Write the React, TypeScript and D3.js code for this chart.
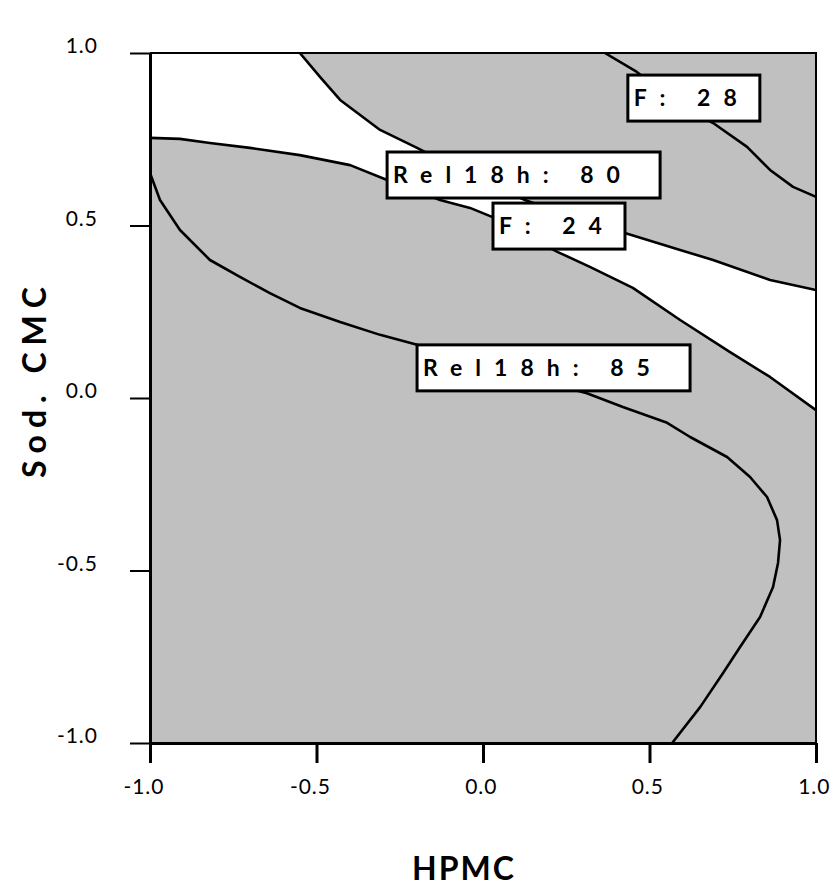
import * as d3 from "d3";
import { useRef, useEffect } from "react";

// axis ticks
const tickValues = [-1, -0.5, 0, 0.5, 1];
const xTickLabels = ["-1.0", "-0.5", "0.0", "0.5", "1.0"];
const yTickLabels = ["-1.0", "-0.5", "0.0", "0.5", "1.0"];

// contour lines, [HPMC, Sod. CMC]
// upper edge of the white band
const upperEdge = [
  [-0.55, 1.0], [-0.489, 0.93], [-0.429, 0.864], [-0.309, 0.777],
  [-0.198, 0.725], [-0.039, 0.646], [0.126, 0.574], [0.291, 0.516],
  [0.426, 0.478], [0.592, 0.429], [0.691, 0.4], [0.862, 0.342], [1.0, 0.313],
];
// lower edge of the white band
const lowerEdge = [
  [-1.0, 0.754], [-0.91, 0.751], [-0.82, 0.739], [-0.7, 0.725],
  [-0.55, 0.704], [-0.399, 0.675], [-0.288, 0.632], [-0.204, 0.603],
  [-0.129, 0.574], [-0.039, 0.551], [0.027, 0.525], [0.126, 0.472],
  [0.225, 0.423], [0.321, 0.38], [0.45, 0.319], [0.592, 0.226],
  [0.742, 0.133], [0.862, 0.061], [1.0, -0.035],
];
// F: 28
const f28Line = [
  [0.366, 1.0], [0.462, 0.945], [0.532, 0.893], [0.622, 0.835],
  [0.691, 0.797], [0.793, 0.728], [0.862, 0.661], [0.931, 0.612], [1.0, 0.583],
];
// Rel18h: 85
const rel85Line = [
  [-1.0, 0.652], [-0.97, 0.574], [-0.91, 0.487], [-0.82, 0.4],
  [-0.73, 0.351], [-0.64, 0.304], [-0.55, 0.261], [-0.429, 0.22],
  [-0.309, 0.183], [-0.198, 0.154], [0.051, 0.081], [0.312, 0.014],
  [0.42, -0.026], [0.553, -0.072], [0.622, -0.113], [0.733, -0.171],
  [0.802, -0.229], [0.853, -0.287], [0.883, -0.354], [0.892, -0.412],
  [0.886, -0.478], [0.871, -0.548], [0.832, -0.635], [0.772, -0.722],
  [0.721, -0.797], [0.652, -0.896], [0.568, -1.0],
];

const contourLabels = ["F: 28", "Rel18h: 80", "F: 24", "Rel18h: 85"];
// top-left corner of each label box
const labelAnchors = [
  [0.435, 0.936],
  [-0.288, 0.713],
  [0.03, 0.565],
  [-0.198, 0.154],
];

const App = () => {
  const container = useRef(null);

  useEffect(() => {
    let node = container.current;

    let margins = { t: 53, l: 150, r: 22, b: 147 };
    let width = 838;
    let height = 890;
    let chartW = width - margins.l - margins.r;
    let chartH = height - margins.t - margins.b;
    let font = "Lato, 'DejaVu Sans', sans-serif";

    let svg = d3
      .select(node)
      .selectAll("svg")
      .data([0])
      .join("svg")
      .attr("width", width)
      .attr("height", height)
      .style("position", "absolute")
      .style("left", 0)
      .style("top", 0)
      .style("background", "#ffffff");

    svg.selectAll("*").remove();

    let xScale = d3.scaleLinear().domain([-1, 1]).range([0, chartW]);
    let yScale = d3.scaleLinear().domain([-1, 1]).range([chartH, 0]);

    let defs = svg.append("defs");
    defs
      .append("clipPath")
      .attr("id", "plot-clip")
      .append("rect")
      .attr("width", chartW)
      .attr("height", chartH);

    let plotg = svg
      .append("g")
      .attr("transform", `translate(${margins.l},${margins.t})`);

    let fillg = plotg.append("g").attr("clip-path", "url(#plot-clip)");

    fillg
      .append("rect")
      .attr("width", chartW)
      .attr("height", chartH)
      .attr("fill", "#c0c0c0");

    let lineGen = d3
      .line()
      .x((d) => xScale(d[0]))
      .y((d) => yScale(d[1]));

    // white band between the two edges (plus top-left corner)
    let band = [[-1, 1], ...upperEdge, ...lowerEdge.slice().reverse()];
    fillg
      .append("path")
      .attr("d", lineGen(band) + "Z")
      .attr("fill", "#ffffff");

    fillg
      .selectAll(".contour-line")
      .data([upperEdge, lowerEdge, f28Line, rel85Line])
      .join("path")
      .attr("class", "contour-line")
      .attr("d", lineGen)
      .attr("fill", "none")
      .attr("stroke", "#000")
      .attr("stroke-width", 2.6)
      .attr("stroke-linejoin", "round");

    // axes
    let xAxis = d3
      .axisBottom(xScale)
      .tickValues(tickValues)
      .tickSize(20)
      .tickSizeOuter(0)
      .tickPadding(16)
      .tickFormat((d, i) => xTickLabels[i]);
    let yAxis = d3
      .axisLeft(yScale)
      .tickValues(tickValues)
      .tickSize(20)
      .tickSizeOuter(0)
      .tickPadding(32)
      .tickFormat((d, i) => yTickLabels[i]);

    let xaxisg = plotg
      .append("g")
      .attr("transform", `translate(0,${chartH})`)
      .call(xAxis);
    let yaxisg = plotg.append("g").call(yAxis);

    xaxisg.select(".domain").attr("stroke-width", 3);
    xaxisg.selectAll(".tick line").attr("stroke-width", 3);
    xaxisg
      .selectAll(".tick text")
      .attr("text-anchor", "end")
      .attr("x", 14)
      .style("font-family", font)
      .style("font-size", "21px")
      .style("letter-spacing", "1px")
      .attr("fill", "#000");

    yaxisg.select(".domain").attr("stroke-width", 3);
    yaxisg.selectAll(".tick line").attr("stroke-width", 2);
    yaxisg
      .selectAll(".tick text")
      .attr("y", -7)
      .style("font-family", font)
      .style("font-size", "21px")
      .style("letter-spacing", "1px")
      .attr("fill", "#000");

    // top and right border
    plotg
      .append("path")
      .attr("d", `M0,0H${chartW}V${chartH}`)
      .attr("fill", "none")
      .attr("stroke", "#000")
      .attr("stroke-width", 2);

    // contour labels
    let labelg = plotg
      .selectAll(".contour-label")
      .data(contourLabels)
      .join("g")
      .attr("class", "contour-label")
      .attr(
        "transform",
        (d, i) =>
          `translate(${xScale(labelAnchors[i][0])},${yScale(labelAnchors[i][1])})`
      );

    labelg
      .append("rect")
      .attr("width", (d) => (d.length > 5 ? 273 : 132))
      .attr("height", 46)
      .attr("fill", "#fff")
      .attr("stroke", "#000")
      .attr("stroke-width", 3);

    labelg
      .append("text")
      .attr("x", 6)
      .attr("y", 31)
      .style("font-family", font)
      .style("font-size", "23px")
      .style("font-weight", 700)
      .style("letter-spacing", "13px")
      .style("white-space", "pre")
      .attr("fill", "#000")
      .text((d) => d);

    // axis titles
    svg
      .append("text")
      .attr("transform", `translate(464,880)`)
      .attr("text-anchor", "middle")
      .style("font-family", font)
      .style("font-size", "32px")
      .style("font-weight", 700)
      .style("letter-spacing", "2px")
      .text("HPMC");

    svg
      .append("text")
      .attr("transform", `translate(46,${margins.t + chartH / 2 - 19})rotate(-90)`)
      .attr("text-anchor", "middle")
      .style("font-family", font)
      .style("font-size", "32px")
      .style("font-weight", 700)
      .style("letter-spacing", "7px")
      .text("Sod. CMC");
  });

  return <div ref={container}></div>;
};

export default App;
